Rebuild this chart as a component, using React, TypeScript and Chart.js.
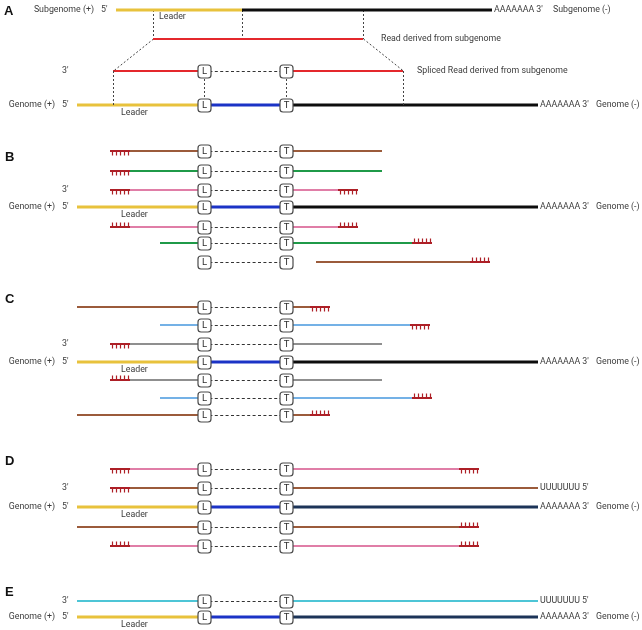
import React, { useEffect, useRef } from 'react';
import { Chart, registerables } from 'chart.js';

Chart.register(...registerables);

const W = 642;
const H = 630;

// Genome coordinates (diagram units)
const L_JUNCTION = 204; // leader junction (L box)
const T_JUNCTION = 286; // body junction (T box)
const GENOME_5 = 77;
const GENOME_3 = 538;
const TAIL_LEN = 20;

const COLORS: Record<string, string> = {
  brown: '#9b5b3b',
  green: '#1f9a48',
  pink: '#e07ea7',
  blue: '#74b1e6',
  gray: '#8f8f8f',
  cyan: '#4dc5d6',
  red: '#e4282c',
  yellow: '#e8c23c',
  leaderBlue: '#1b33c6',
  black: '#0d0d0d',
  navy: '#1c3458',
  poly: '#ad1f26',
  dotted: '#444444',
  dash: '#333333',
  box: '#4a4a4a',
  text: '#3c3c3c',
};

type Tail = 'T' | 'A' | null;
type Read = {
  y: number;
  color: string;
  start: number | null;
  bodyStart?: number;
  end: number;
  head?: Tail;
  tail?: Tail;
};

// Genome rows of panels A..E and the colour of their body part
const genomeRows = [105, 207, 362, 507, 617];
const genomeBody = ['black', 'black', 'black', 'navy', 'navy'];

// Panel A
const subgenomeY = 10;
const subgenomeLeader = [116, 242];
const subgenomeBody = [242, 492];
const readY = 39;
const readSpan = [153, 363];
const splicedRead: Read[] = [{ y: 71, color: 'red', start: 113, end: 403 }];

// Panels B-E
const readsB: Read[] = [
  { y: 151, color: 'brown', start: 130, end: 382, head: 'T' },
  { y: 171, color: 'green', start: 130, end: 382, head: 'T' },
  { y: 190, color: 'pink', start: 130, end: 338, head: 'T', tail: 'T' },
  { y: 227, color: 'pink', start: 130, end: 338, head: 'A', tail: 'A' },
  { y: 243, color: 'green', start: 160, end: 412, tail: 'A' },
  { y: 262, color: 'brown', start: null, bodyStart: 316, end: 470, tail: 'A' },
];
const readsC: Read[] = [
  { y: 307, color: 'brown', start: 77, end: 310, tail: 'T' },
  { y: 325, color: 'blue', start: 160, end: 410, tail: 'T' },
  { y: 344, color: 'gray', start: 130, end: 382, head: 'T' },
  { y: 380, color: 'gray', start: 130, end: 382, head: 'A' },
  { y: 398, color: 'blue', start: 160, end: 412, tail: 'A' },
  { y: 415, color: 'brown', start: 77, end: 310, tail: 'A' },
];
const readsD: Read[] = [
  { y: 469, color: 'pink', start: 130, end: 459, head: 'T', tail: 'T' },
  { y: 488, color: 'brown', start: 130, end: 538, head: 'T' },
  { y: 527, color: 'brown', start: 77, end: 459, tail: 'A' },
  { y: 546, color: 'pink', start: 130, end: 459, head: 'A', tail: 'A' },
];
const readsE: Read[] = [{ y: 601, color: 'cyan', start: 77, end: 538 }];

const allReads = [...splicedRead, ...readsB, ...readsC, ...readsD, ...readsE];

// dotted guide lines of panel A: [x0, y0, x1, y1]
const guides: number[][] = [
  [153, 10, 153, 39],
  [242, 10, 242, 39],
  [363, 10, 363, 39],
  [153, 39, 113, 71],
  [363, 39, 403, 71],
  [113, 71, 113, 105],
  [204, 71, 204, 105],
  [286, 71, 286, 105],
  [403, 71, 403, 105],
];

type Label = { t: string; x: number; y: number; align?: CanvasTextAlign; bold?: boolean };
const panelLetters: Label[] = [
  { t: 'A', x: 4, y: 11, bold: true },
  { t: 'B', x: 5, y: 157, bold: true },
  { t: 'C', x: 5, y: 299, bold: true },
  { t: 'D', x: 5, y: 461, bold: true },
  { t: 'E', x: 5, y: 592, bold: true },
];
const textLabels: Label[] = [
  { t: 'Subgenome (+)', x: 94, y: 10, align: 'right' },
  { t: "5'", x: 101, y: 10 },
  { t: 'Leader', x: 159, y: 17 },
  { t: "AAAAAAA 3'", x: 494, y: 10 },
  { t: 'Subgenome (-)', x: 553, y: 10 },
  { t: 'Read derived from subgenome', x: 381, y: 39 },
  { t: "3'", x: 62, y: 71 },
  { t: 'Spliced Read derived from subgenome', x: 417, y: 71 },
  { t: "3'", x: 62, y: 190 },
  { t: "3'", x: 62, y: 344 },
  { t: "3'", x: 62, y: 488 },
  { t: "3'", x: 62, y: 601 },
  { t: "UUUUUUU 5'", x: 540, y: 488 },
  { t: "UUUUUUU 5'", x: 540, y: 601 },
];

function seg(x0: number, y0: number, x1: number, y1: number, color: string, width: number, dash: number[] = []) {
  return {
    data: [
      { x: x0, y: y0 },
      { x: x1, y: y1 },
    ],
    borderColor: color,
    backgroundColor: color,
    borderWidth: width,
    borderDash: dash,
    borderCapStyle: 'butt',
    showLine: true,
    pointRadius: 0,
    pointHoverRadius: 0,
    fill: false,
    tension: 0,
    clip: false,
  };
}

function comb(x0: number, y: number, kind: Tail) {
  const out: any[] = [seg(x0, y, x0 + TAIL_LEN, y, COLORS.poly, 2)];
  const dir = kind === 'T' ? 1 : -1;
  for (let i = 0; i < 5; i++) {
    const tx = x0 + 2.5 + i * 4;
    out.push(seg(tx, y, tx, y + dir * 4.5, COLORS.poly, 1.2));
  }
  return out;
}

function buildDatasets() {
  const ds: any[] = [];
  // panel A subgenome + read
  ds.push(seg(subgenomeLeader[0], subgenomeY, subgenomeLeader[1], subgenomeY, COLORS.yellow, 3));
  ds.push(seg(subgenomeBody[0], subgenomeY, subgenomeBody[1], subgenomeY, COLORS.black, 3));
  ds.push(seg(readSpan[0], readY, readSpan[1], readY, COLORS.red, 2));
  guides.forEach((g) => ds.push(seg(g[0] + 0.5, g[1], g[2] + 0.5, g[3], COLORS.dotted, 1, [2, 2])));
  // reads: tails first so they are drawn on top
  allReads.forEach((r) => {
    if (r.start !== null && r.head) comb(r.start - TAIL_LEN, r.y, r.head).forEach((d) => ds.push(d));
    if (r.tail) comb(r.end, r.y, r.tail).forEach((d) => ds.push(d));
  });
  // genomes
  genomeRows.forEach((y, i) => {
    ds.push(seg(GENOME_5, y, L_JUNCTION, y, COLORS.yellow, 3));
    ds.push(seg(L_JUNCTION, y, T_JUNCTION, y, COLORS.leaderBlue, 3));
    ds.push(seg(T_JUNCTION, y, GENOME_3, y, COLORS[genomeBody[i]], 3));
  });
  allReads.forEach((r) => {
    const c = COLORS[r.color];
    if (r.start !== null) ds.push(seg(r.start, r.y, L_JUNCTION, r.y, c, 2));
    ds.push(seg(L_JUNCTION, r.y + 0.5, T_JUNCTION, r.y + 0.5, COLORS.dash, 1.2, [3, 2.4]));
    ds.push(seg(r.bodyStart ?? T_JUNCTION, r.y, r.end, r.y, c, 2));
  });
  return ds;
}

const overlay = {
  id: 'overlay',
  afterDatasetsDraw(chart: any) {
    const { ctx } = chart;
    const xs = chart.scales.x;
    const ys = chart.scales.y;
    ctx.save();
    // boxes
    const rows = [...allReads.map((r) => r.y), ...genomeRows];
    const box = (xv: number, yv: number, letter: string) => {
      const px = Math.round(xs.getPixelForValue(xv)) + 0.5;
      const py = Math.round(ys.getPixelForValue(yv)) + 0.5;
      const s = 13;
      ctx.beginPath();
      if (ctx.roundRect) ctx.roundRect(px - s / 2, py - s / 2, s, s, 3);
      else ctx.rect(px - s / 2, py - s / 2, s, s);
      ctx.fillStyle = '#ffffff';
      ctx.fill();
      ctx.lineWidth = 1.2;
      ctx.strokeStyle = COLORS.box;
      ctx.stroke();
      ctx.fillStyle = '#2e2e2e';
      ctx.font = '9.5px Roboto, "Liberation Sans", sans-serif';
      ctx.textAlign = 'center';
      ctx.textBaseline = 'middle';
      ctx.fillText(letter, px, py + 0.5);
    };
    rows.forEach((y) => {
      box(L_JUNCTION, y, 'L');
      box(T_JUNCTION, y, 'T');
    });
    // labels
    const draw = (l: Label, font: string, color: string) => {
      ctx.font = font;
      ctx.fillStyle = color;
      ctx.textAlign = l.align ?? 'left';
      ctx.textBaseline = 'middle';
      ctx.fillText(l.t, xs.getPixelForValue(l.x), ys.getPixelForValue(l.y));
    };
    const f = '8.8px Roboto, "Liberation Sans", sans-serif';
    panelLetters.forEach((l) => draw(l, 'bold 13px "Liberation Sans", Arial, sans-serif', '#111'));
    textLabels.forEach((l) => draw(l, f, COLORS.text));
    genomeRows.forEach((y) => {
      draw({ t: 'Genome (+)', x: 55, y, align: 'right' }, f, COLORS.text);
      draw({ t: "5'", x: 62, y }, f, COLORS.text);
      draw({ t: 'Leader', x: 121, y: y + 8 }, f, COLORS.text);
      draw({ t: "AAAAAAA 3'", x: 540, y }, f, COLORS.text);
      draw({ t: 'Genome (-)', x: 596, y }, f, COLORS.text);
    });
    ctx.restore();
  },
};

export default function App() {
  const ref = useRef<HTMLCanvasElement | null>(null);
  useEffect(() => {
    if (!ref.current) return;
    const chart = new Chart(ref.current, {
      type: 'scatter',
      data: { datasets: buildDatasets() },
      options: {
        animation: false,
        responsive: false,
        events: [],
        layout: { padding: 0 },
        plugins: { legend: { display: false }, tooltip: { enabled: false } },
        scales: {
          x: { type: 'linear', min: 0, max: W, display: false },
          y: { type: 'linear', min: 0, max: H, reverse: true, display: false },
        },
      } as any,
      plugins: [overlay],
    });
    return () => chart.destroy();
  }, []);
  return (
    <div style={{ position: 'absolute', left: 0, top: 0, width: W, height: H, background: '#fff' }}>
      <canvas ref={ref} width={W} height={H} style={{ width: W, height: H, display: 'block' }} />
    </div>
  );
}
